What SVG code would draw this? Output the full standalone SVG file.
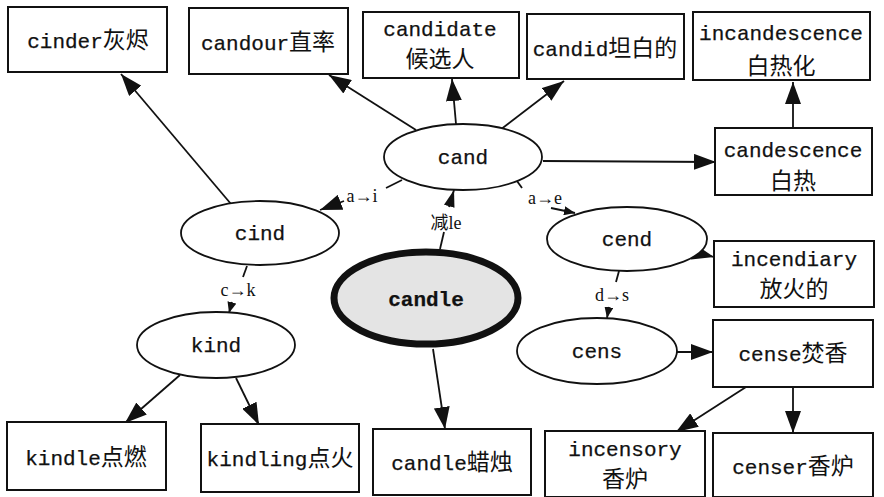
<svg xmlns="http://www.w3.org/2000/svg" width="884" height="497" viewBox="0 0 884 497">
<defs>
<style>
.box{fill:#fff;stroke:#111;stroke-width:2}
.ell{fill:#fff;stroke:#111;stroke-width:1.8}
.root{fill:#e4e4e4;stroke:#111;stroke-width:7}
.t{font-family:"Liberation Mono","Noto Sans CJK SC",monospace;font-size:21px;fill:#111;stroke:#111;stroke-width:0.25;text-anchor:middle}
.c{font-family:"Noto Sans CJK SC",sans-serif;font-size:23px;stroke-width:0}
.lbl{font-family:"Liberation Serif","Noto Sans CJK SC",serif;font-size:18px;fill:#111;text-anchor:middle}
.e{fill:none;stroke:#111;stroke-width:1.8}
.a{marker-end:url(#big)}
.m{marker-end:url(#mid)}
.s{marker-end:url(#small)}
</style>
<marker id="big" viewBox="0 0 22 16" refX="22" refY="8" markerWidth="22" markerHeight="16" markerUnits="userSpaceOnUse" orient="auto"><path d="M0,0 L22,8 L0,16 z" fill="#111"/></marker>
<marker id="mid" viewBox="0 0 17 11" refX="17" refY="5.5" markerWidth="17" markerHeight="11" markerUnits="userSpaceOnUse" orient="auto"><path d="M0,0 L17,5.5 L0,11 z" fill="#111"/></marker>
<marker id="small" viewBox="0 0 11 9" refX="11" refY="4.5" markerWidth="11" markerHeight="9" markerUnits="userSpaceOnUse" orient="auto"><path d="M0,0 L11,4.5 L0,9 z" fill="#111"/></marker>
</defs>
<rect width="884" height="497" fill="#fff"/>
<g id="connectors">
<line class="e a" x1="231" y1="204" x2="121" y2="74"/>
<line class="e a" x1="416" y1="130" x2="329" y2="75"/>
<line class="e a" x1="456" y1="124" x2="452" y2="79"/>
<line class="e a" x1="500" y1="130" x2="564" y2="81"/>
<line class="e a" x1="543" y1="161" x2="716" y2="162"/>
<line class="e a" x1="793" y1="127" x2="793" y2="82"/>
<line class="e" x1="402" y1="180" x2="386" y2="188"/>
<line class="e a" x1="344" y1="201" x2="320" y2="210"/>
<text class="lbl" x="362" y="202">a→i</text>
<line class="e" x1="440" y1="249" x2="444" y2="232"/>
<line class="e m" x1="449" y1="207" x2="454" y2="190"/>
<text class="lbl" x="446" y="229">减le</text>
<line class="e" x1="517" y1="181" x2="522" y2="188"/>
<line class="e s" x1="551" y1="208" x2="575" y2="213"/>
<text class="lbl" x="545" y="204">a→e</text>
<line class="e" x1="247" y1="266" x2="243" y2="277"/>
<line class="e s" x1="232" y1="302" x2="229" y2="313"/>
<text class="lbl" x="238" y="296">c→k</text>
<line class="e" x1="619" y1="271" x2="616" y2="282"/>
<line class="e s" x1="609" y1="307" x2="607" y2="318"/>
<text class="lbl" x="612" y="301">d→s</text>
<path class="e a" d="M705,231 C708,243 701,249 694,252 L714,257"/>
<line class="e a" x1="677" y1="352" x2="713" y2="352"/>
<line class="e a" x1="746" y1="387" x2="676" y2="432"/>
<line class="e a" x1="793" y1="387" x2="793" y2="433"/>
<line class="e a" x1="180" y1="375" x2="125" y2="423"/>
<line class="e a" x1="236" y1="378" x2="259" y2="425"/>
<line class="e a" x1="433" y1="349" x2="445" y2="429"/>
</g>
<g id="n-cinder"><rect class="box" x="8" y="7" width="159" height="65"/><text class="t" x="88" y="48">cinder<tspan class="c">灰烬</tspan></text></g>
<g id="n-candour"><rect class="box" x="189" y="8" width="159" height="66"/><text class="t" x="268" y="50">candour<tspan class="c">直率</tspan></text></g>
<g id="n-candidate"><rect class="box" x="363" y="12" width="156" height="66"/><text class="t" x="440" y="36">candidate</text><text class="t c" x="440" y="67">候选人</text></g>
<g id="n-candid"><rect class="box" x="527" y="14" width="157" height="65"/><text class="t" x="605" y="56">candid<tspan class="c">坦白的</tspan></text></g>
<g id="n-incandescence"><rect class="box" x="693" y="12" width="177" height="68"/><text class="t" x="781" y="40">incandescence</text><text class="t c" x="781" y="74">白热化</text></g>
<g id="n-candescence"><rect class="box" x="715" y="128" width="157" height="67"/><text class="t" x="793" y="157">candescence</text><text class="t c" x="793" y="189">白热</text></g>
<g id="n-incendiary"><rect class="box" x="714" y="241" width="160" height="66"/><text class="t" x="794" y="266">incendiary</text><text class="t c" x="794" y="297">放火的</text></g>
<g id="n-cense"><rect class="box" x="713" y="320" width="160" height="67"/><text class="t" x="793" y="361">cense<tspan class="c">焚香</tspan></text></g>
<g id="n-incensory"><rect class="box" x="545" y="431" width="160" height="66"/><text class="t" x="625" y="456">incensory</text><text class="t c" x="625" y="487">香炉</text></g>
<g id="n-censer"><rect class="box" x="713" y="433" width="160" height="64"/><text class="t" x="793" y="474">censer<tspan class="c">香炉</tspan></text></g>
<g id="n-candle-box"><rect class="box" x="373" y="429" width="158" height="66"/><text class="t" x="452" y="470">candle<tspan class="c">蜡烛</tspan></text></g>
<g id="n-kindling"><rect class="box" x="201" y="424" width="158" height="68"/><text class="t" x="280" y="466">kindling<tspan class="c">点火</tspan></text></g>
<g id="n-kindle"><rect class="box" x="7" y="422" width="159" height="68"/><text class="t" x="86" y="465">kindle<tspan class="c">点燃</tspan></text></g>
<g id="n-cand"><ellipse class="ell" cx="463" cy="157" rx="79" ry="33"/><text class="t" x="463" y="164">cand</text></g>
<g id="n-cind"><ellipse class="ell" cx="260" cy="233" rx="79" ry="32"/><text class="t" x="260" y="240">cind</text></g>
<g id="n-kind"><ellipse class="ell" cx="216" cy="345" rx="79" ry="33"/><text class="t" x="216" y="352">kind</text></g>
<g id="n-candle"><ellipse class="root" cx="426" cy="298" rx="92" ry="46"/><text class="t" x="426" y="306" font-weight="bold">candle</text></g>
<g id="n-cend"><ellipse class="ell" cx="627" cy="239" rx="80" ry="32"/><text class="t" x="627" y="246">cend</text></g>
<g id="n-cens"><ellipse class="ell" cx="597" cy="351" rx="80" ry="33"/><text class="t" x="597" y="358">cens</text></g>
</svg>
